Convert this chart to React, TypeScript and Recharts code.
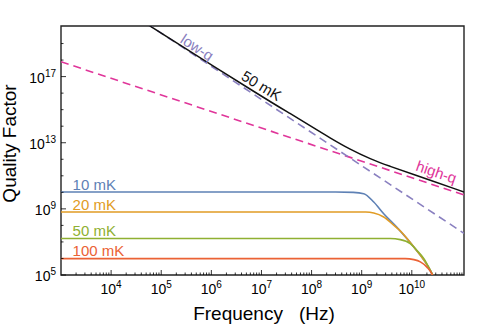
import { LineChart, Line, XAxis, YAxis, ReferenceArea, ReferenceDot } from "recharts";

const FONT = '"Liberation Sans", Arial, Helvetica, sans-serif';

// frequency (Hz) vs quality factor
const Q_10MK = [
  { f: 1e3, q: 1.05e10 },
  { f: 3e8, q: 1.05e10 },
  { f: 6.8e8, q: 1.0e10 },
  { f: 1.1e9, q: 8.3e9 },
  { f: 1.74e9, q: 2.6e9 },
  { f: 2.75e9, q: 5.1e8 },
  { f: 5.0e9, q: 7.9e7 },
  { f: 1.1e10, q: 4.9e6 },
  { f: 2.34e10, q: 1.9e5 },
  { f: 2.6e10, q: 1e5 },
];
const Q_20MK = [
  { f: 1e3, q: 6.5e8 },
  { f: 5e8, q: 6.5e8 },
  { f: 1.2e9, q: 6.4e8 },
  { f: 1.74e9, q: 5.6e8 },
  { f: 2.75e9, q: 3.2e8 },
  { f: 4.4e9, q: 1.0e8 },
  { f: 5.4e9, q: 6.0e7 },
  { f: 1.1e10, q: 4.9e6 },
  { f: 2.34e10, q: 1.9e5 },
  { f: 2.6e10, q: 1e5 },
];
const Q_50MK = [
  { f: 1e3, q: 1.6e7 },
  { f: 3.7e9, q: 1.6e7 },
  { f: 5.9e9, q: 1.38e7 },
  { f: 9.3e9, q: 7.9e6 },
  { f: 1.26e10, q: 3.1e6 },
  { f: 1.74e10, q: 9.8e5 },
  { f: 2.34e10, q: 1.9e5 },
  { f: 2.6e10, q: 1e5 },
];
const Q_100MK = [
  { f: 1e3, q: 9.8e5 },
  { f: 7.4e9, q: 9.8e5 },
  { f: 1.1e10, q: 8.5e5 },
  { f: 1.48e10, q: 6.2e5 },
  { f: 2.0e10, q: 3.0e5 },
  { f: 2.5e10, q: 1.2e5 },
  { f: 2.65e10, q: 8e4 },
];
const Q_TOTAL_50MK = [
  { f: 5.5e4, q: 1.35e20 },
  { f: 6.4e4, q: 1.0e20 },
  { f: 1.48e7, q: 3.0e15 },
  { f: 3.7e7, q: 6.0e14 },
  { f: 9.3e7, q: 1.08e14 },
  { f: 2.34e8, q: 1.95e13 },
  { f: 5.9e8, q: 3.9e12 },
  { f: 1.48e9, q: 1.05e12 },
  { f: 3.7e9, q: 3.7e11 },
  { f: 9.3e9, q: 1.4e11 },
  { f: 1.1e11, q: 1.05e10 },
];
const LOW_Q = [
  { f: 5e4, q: 1.7e20 },
  { f: 1.1e11, q: 3.3e7 },
];
const HIGH_Q = [
  { f: 1e3, q: 7.9e17 },
  { f: 1.1e11, q: 6.9e9 },
];

const X_MAJOR = [1e4, 1e5, 1e6, 1e7, 1e8, 1e9, 1e10];
const X_MINOR_STEPS = [2, 3, 4, 5, 6, 7, 8, 9];
const Y_MAJOR = [1e5, 1e9, 1e13, 1e17];
const Y_MINOR = [1e6, 1e7, 1e8, 1e10, 1e11, 1e12, 1e14, 1e15, 1e16, 1e18, 1e19];

const X_TICKS = [
  ...[1e3, ...X_MAJOR].flatMap((d) => X_MINOR_STEPS.map((s) => s * d)),
  ...X_MAJOR,
  1e11,
].sort((a, b) => a - b);
const Y_TICKS = [...Y_MAJOR, ...Y_MINOR].sort((a, b) => a - b);

const C_10 = "#5e81b5";
const C_20 = "#e19c24";
const C_50 = "#8fb032";
const C_100 = "#eb6235";
const C_LOW = "#8a80c0";
const C_HIGH = "#e0369a";

const XTick = ({ x, y, payload }: any) => {
  const v = payload.value;
  const major = X_MAJOR.includes(v);
  return (
    <g>
      <line x1={x} x2={x} y1={y} y2={y - (major ? 5 : 2.5)} stroke="#000" strokeWidth={0.8} />
      {major && (
        <text x={x} y={y + 19} textAnchor="middle" fontSize={14} fontFamily={FONT} fill="#000">
          10<tspan dy={-6} fontSize={10}>{Math.round(Math.log10(v))}</tspan>
        </text>
      )}
    </g>
  );
};

const YTick = ({ x, y, payload }: any) => {
  const v = payload.value;
  const major = Y_MAJOR.includes(v);
  return (
    <g>
      <line x1={x} x2={x + (major ? 5 : 2.5)} y1={y} y2={y} stroke="#000" strokeWidth={0.8} />
      {major && (
        <text x={x - 5} y={y + 6} textAnchor="end" fontSize={14} fontFamily={FONT} fill="#000">
          10<tspan dy={-6} fontSize={10}>{Math.round(Math.log10(v))}</tspan>
        </text>
      )}
    </g>
  );
};

// rotated text placed at a data point
const tag =
  (text: string, color: string, angle: number, anchor: "start" | "middle" = "middle", size = 15) =>
  (p: any) =>
    (
      <text
        transform={`translate(${p.cx},${p.cy}) rotate(${angle})`}
        textAnchor={anchor}
        dy={anchor === "middle" ? "0.35em" : 0}
        fontSize={size}
        fontFamily={FONT}
        fill={color}
      >
        {text}
      </text>
    );

export default function App() {
  return (
    <div style={{ position: "absolute", left: 0, top: 0, width: 491, height: 325, background: "#fff" }}>
      <LineChart width={491} height={325} margin={{ top: 26, right: 27, bottom: 20, left: 21 }}>
        <XAxis
          dataKey="f"
          type="number"
          scale="log"
          domain={[1e3, 1.1e11]}
          allowDataOverflow
          ticks={X_TICKS}
          interval={0}
          tick={<XTick />}
          tickLine={false}
          axisLine={false}
          tickSize={0}
          tickMargin={0}
          height={30}
        />
        <YAxis
          type="number"
          scale="log"
          domain={[1e5, 1.15e20]}
          allowDataOverflow
          ticks={Y_TICKS}
          interval={0}
          tick={<YTick />}
          tickLine={false}
          axisLine={false}
          tickSize={0}
          tickMargin={0}
          width={40}
        />
        <Line data={HIGH_Q} dataKey="q" type="linear" stroke={C_HIGH} strokeWidth={1.6} strokeDasharray="8 5" dot={false} activeDot={false} isAnimationActive={false} />
        <Line data={LOW_Q} dataKey="q" type="linear" stroke={C_LOW} strokeWidth={1.6} strokeDasharray="8 5" dot={false} activeDot={false} isAnimationActive={false} />
        <Line data={Q_TOTAL_50MK} dataKey="q" type="basis" stroke="#111" strokeWidth={1.5} dot={false} activeDot={false} isAnimationActive={false} />
        <Line data={Q_10MK} dataKey="q" type="monotone" stroke={C_10} strokeWidth={1.6} dot={false} activeDot={false} isAnimationActive={false} />
        <Line data={Q_20MK} dataKey="q" type="monotone" stroke={C_20} strokeWidth={1.6} dot={false} activeDot={false} isAnimationActive={false} />
        <Line data={Q_50MK} dataKey="q" type="monotone" stroke={C_50} strokeWidth={1.6} dot={false} activeDot={false} isAnimationActive={false} />
        <Line data={Q_100MK} dataKey="q" type="monotone" stroke={C_100} strokeWidth={1.6} dot={false} activeDot={false} isAnimationActive={false} />

        <ReferenceDot x={1.7e3} y={1.4e10} r={0} shape={tag("10 mK", C_10, 0, "start")} />
        <ReferenceDot x={1.7e3} y={8.5e8} r={0} shape={tag("20 mK", C_20, 0, "start")} />
        <ReferenceDot x={1.7e3} y={2.3e7} r={0} shape={tag("50 mK", C_50, 0, "start")} />
        <ReferenceDot x={1.7e3} y={1.4e6} r={0} shape={tag("100 mK", C_100, 0, "start")} />
        <ReferenceDot x={5.2e5} y={5.8e18} r={0} shape={tag("low-q", C_LOW, 33)} />
        <ReferenceDot x={1.0e7} y={2.8e16} r={0} shape={tag("50 mK", "#111", 31)} />
        <ReferenceDot x={3.1e10} y={1.7e11} r={0} shape={tag("high-q", C_HIGH, 19)} />

        <ReferenceArea x1={1e3} x2={1.1e11} y1={1e5} y2={1.15e20} fill="none" stroke="#222" strokeWidth={1.4} ifOverflow="visible" />
      </LineChart>
      <svg width={491} height={325} style={{ position: "absolute", left: 0, top: 0, pointerEvents: "none" }}>
        <text x={264} y={320} textAnchor="middle" fontSize={19} fontFamily={FONT} fill="#000">
          <tspan>Frequency</tspan>
          <tspan dx={16}>(Hz)</tspan>
        </text>
        <text transform="translate(16,143.5) rotate(-90)" textAnchor="middle" fontSize={19} fontFamily={FONT} fill="#000">
          Quality Factor
        </text>
      </svg>
    </div>
  );
}
